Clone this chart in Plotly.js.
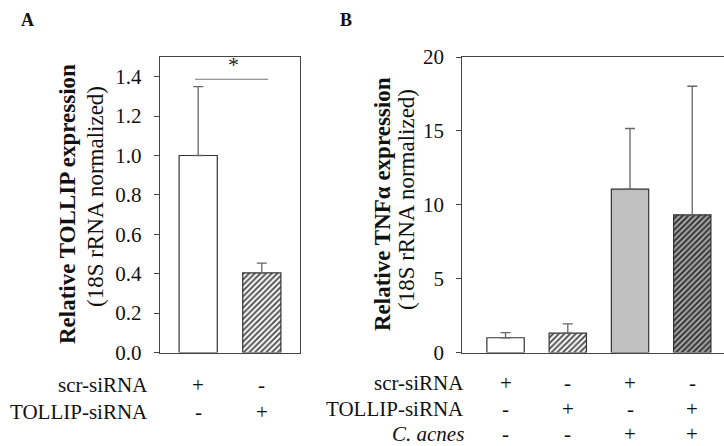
<!DOCTYPE html>
<html>
<head>
<meta charset="utf-8">
<script src="https://cdn.plot.ly/plotly-3.0.1.min.js"></script>
<style>html,body{margin:0;padding:0;background:#fff;}#chart{width:724px;height:446px;}</style>
</head>
<body>
<div id="chart"></div>
<script>
// ---- Data ----
const catsA = [0, 1];
const valuesA = [1.0, 0.404];
const errorsA = [0.35, 0.05];
const rowLabelsA = ['scr-siRNA', 'TOLLIP-siRNA'];
const signsA = [['+', '-'], ['-', '+']];

const catsB = [0, 1, 2, 3];
const valuesB = [1.0, 1.31, 11.06, 9.32];
const errorsB = [0.35, 0.63, 4.1, 8.7];
const rowLabelsB = ['scr-siRNA', 'TOLLIP-siRNA', '<i>C. acnes</i>'];
const signsB = [['+', '-', '+', '-'], ['-', '+', '-', '+'], ['-', '-', '+', '+']];

const ticksA = [0, 0.2, 0.4, 0.6, 0.8, 1.0, 1.2, 1.4];
const ticksB = [0, 5, 10, 15, 20];

// ---- Styles ----
const W = 724, H = 446;
const px = v => v / W;
const py = v => 1 - v / H;
const FONT = 'Liberation Serif';
const lineCol = '#444';
const outline = {color: '#333', width: 1.2};

const styleA = [
  {color: '#ffffff', line: outline},
  {color: '#ffffff', line: outline, pattern: {shape: '/', fgcolor: '#555', bgcolor: '#ffffff', size: 4, solidity: 0.5}}
];
const styleB = [
  {color: '#ffffff', line: outline},
  {color: '#ffffff', line: outline, pattern: {shape: '/', fgcolor: '#555', bgcolor: '#ffffff', size: 4, solidity: 0.5}},
  {color: '#c0c0c0', line: outline},
  {color: '#999', line: outline, pattern: {shape: '/', fgcolor: '#333', bgcolor: '#aaaaaa', size: 4, solidity: 0.5}}
];

function barTraces(cats, vals, errs, styles, xa, ya) {
  return cats.map((c, i) => ({
    type: 'bar', x: [c], y: [vals[i]], width: 0.6,
    xaxis: xa, yaxis: ya,
    marker: styles[i],
    error_y: {type: 'data', symmetric: false, array: [errs[i]], arrayminus: [0], color: '#666', thickness: 1.3, width: 5},
    hoverinfo: 'skip', showlegend: false
  }));
}

const data = [
  ...barTraces(catsA, valuesA, errorsA, styleA, 'x', 'y'),
  ...barTraces(catsB, valuesB, errorsB, styleB, 'x2', 'y2')
];

const yDom = [py(352.5), py(57)];
const axisCommon = {
  showgrid: false, zeroline: false, showline: true, linecolor: lineCol, linewidth: 1.2,
  tickfont: {family: FONT, size: 21, color: '#111'}
};

const annotations = [];
function txt(x, y, text, opts) {
  annotations.push(Object.assign({x, y, text, showarrow: false, xref: 'paper', yref: 'paper',
    xanchor: 'center', yanchor: 'middle',
    font: {family: FONT, size: 21, color: '#111'}}, opts || {}));
}
// Panel letters
txt(px(27), py(20), '<b>A</b>', {font: {family: FONT, size: 18, color: '#111'}});
txt(px(346), py(20), '<b>B</b>', {font: {family: FONT, size: 18, color: '#111'}});
// Y titles
txt(px(67), py(204), '<b>Relative TOLLIP expression</b>', {textangle: -90, font: {family: FONT, size: 23, color: '#111'}});
txt(px(95), py(197), '(18S rRNA normalized)', {textangle: -90, font: {family: FONT, size: 23, color: '#111'}});
txt(px(382), py(204), '<b>Relative TNFα expression</b>', {textangle: -90, font: {family: FONT, size: 23, color: '#111'}});
txt(px(406), py(199), '(18S rRNA normalized)', {textangle: -90, font: {family: FONT, size: 23, color: '#111'}});
// Condition table
const rowYA = [385, 412];
rowLabelsA.forEach((lab, r) => {
  txt(px(150), py(rowYA[r]), lab, {xanchor: 'right'});
  signsA[r].forEach((s, i) => annotations.push({x: catsA[i], y: py(rowYA[r]), xref: 'x', yref: 'paper', text: s, showarrow: false,
    xanchor: 'center', yanchor: 'middle', font: {family: FONT, size: 21, color: '#111'}}));
});
const rowYB = [383, 409, 434];
rowLabelsB.forEach((lab, r) => {
  txt(px(466), py(rowYB[r]), lab, {xanchor: 'right'});
  signsB[r].forEach((s, i) => annotations.push({x: catsB[i], y: py(rowYB[r]), xref: 'x2', yref: 'paper', text: s, showarrow: false,
    xanchor: 'center', yanchor: 'middle', font: {family: FONT, size: 21, color: '#111'}}));
});
// Significance asterisk
annotations.push({x: 0.55, y: 1.387, xref: 'x', yref: 'y', text: '*', showarrow: false,
  xanchor: 'center', yanchor: 'bottom', font: {family: FONT, size: 22, color: '#222'}});

const layout = {
  width: W, height: H,
  margin: {l: 0, r: 0, t: 0, b: 0},
  paper_bgcolor: '#fff', plot_bgcolor: '#fff',
  font: {family: FONT},
  showlegend: false,
  xaxis: Object.assign({}, axisCommon, {domain: [px(160), px(300)], range: [-0.6, 1.6], showticklabels: false, ticks: '', mirror: true}),
  yaxis: Object.assign({}, axisCommon, {domain: yDom, range: [0, 1.5], tickvals: ticksA, ticktext: ticksA.map(v => v.toFixed(1)),
    ticks: 'outside', ticklen: 5, tickcolor: lineCol, mirror: true, ticklabelstandoff: 8}),
  xaxis2: Object.assign({}, axisCommon, {domain: [px(462.3), 1], range: [-0.695, 3.51], showticklabels: false, ticks: '', mirror: true, anchor: 'y2'}),
  yaxis2: Object.assign({}, axisCommon, {domain: yDom, range: [0, 20], tickvals: ticksB, anchor: 'x2',
    ticks: 'outside', ticklen: 5, tickcolor: lineCol, mirror: false, ticklabelstandoff: 8}),
  shapes: [
    {type: 'line', xref: 'x', yref: 'y', x0: -0.05, x1: 1.10, y0: 1.387, y1: 1.387, line: {color: '#777', width: 1}}
  ],
  annotations: annotations,
  bargap: 0
};

Plotly.newPlot('chart', data, layout, {displayModeBar: false, staticPlot: true});
</script>
</body>
</html>
